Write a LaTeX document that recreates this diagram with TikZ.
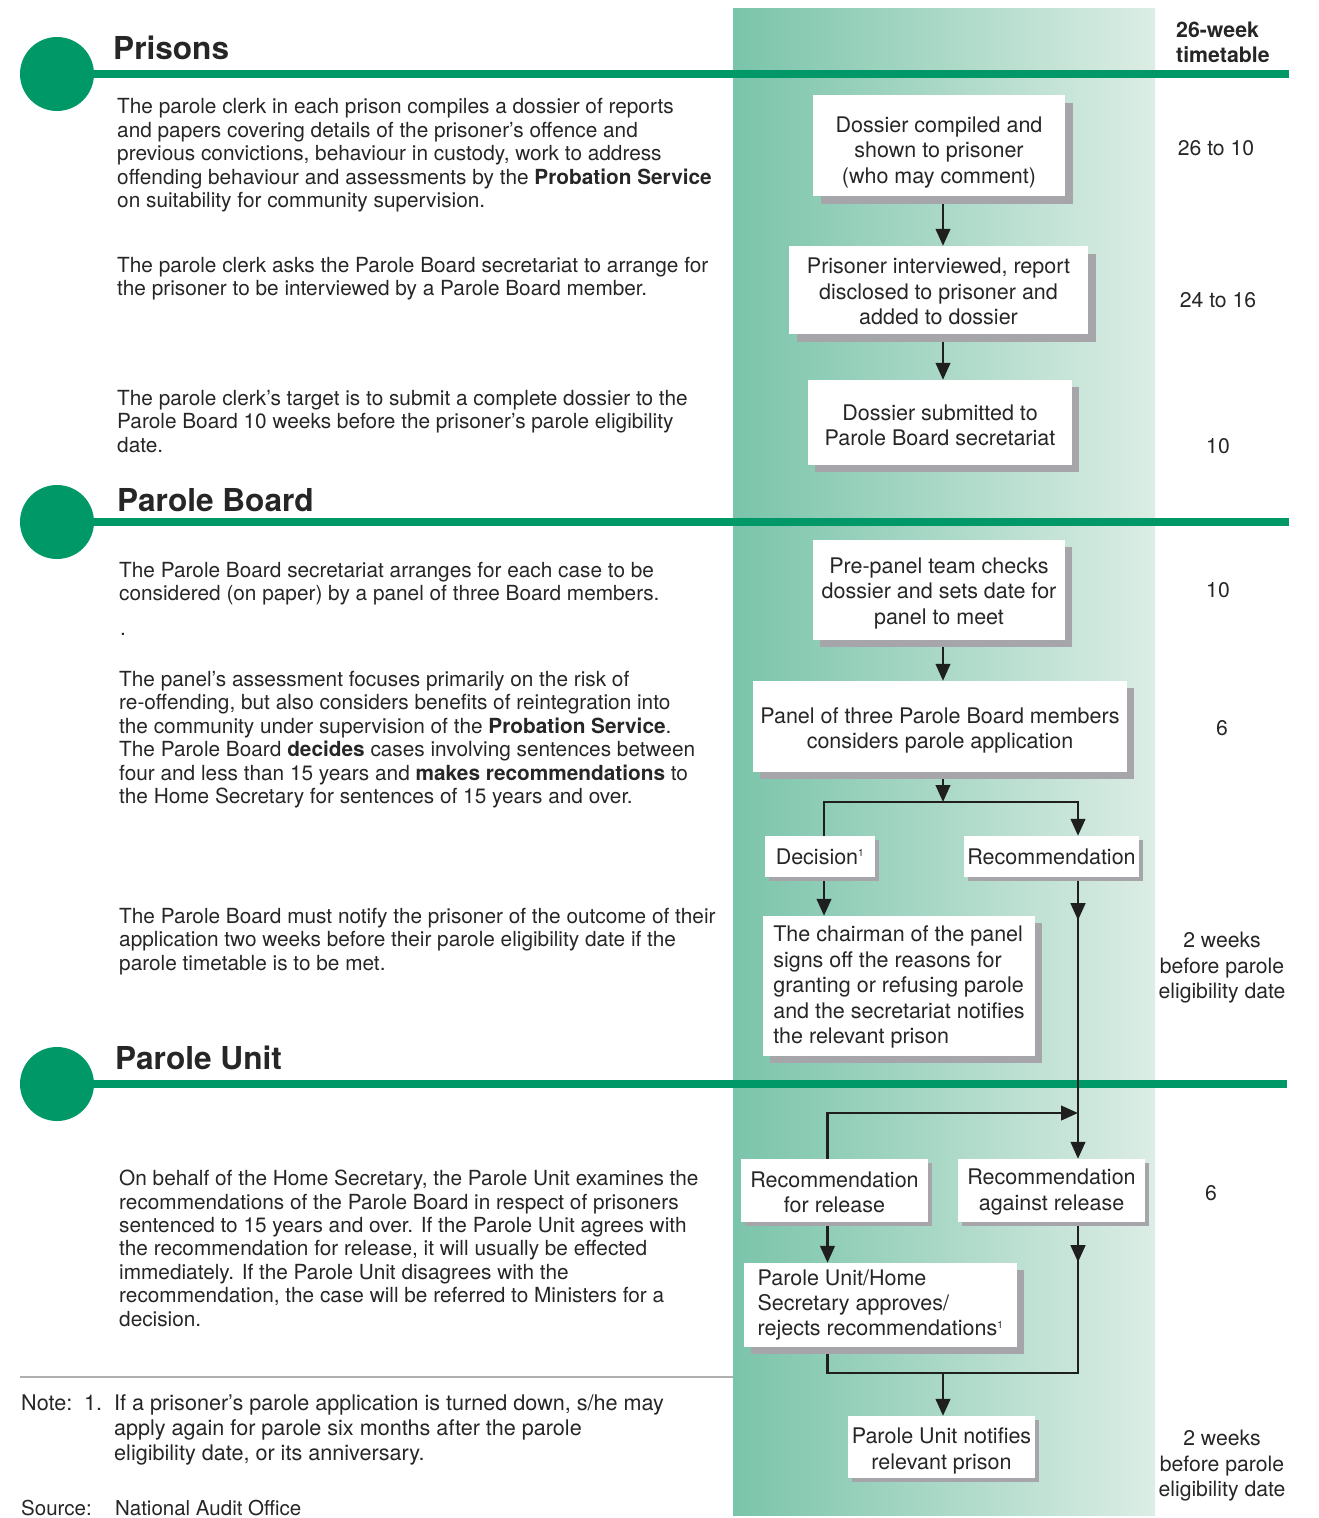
\documentclass[tikz,border=0pt]{standalone}
\usepackage{fontspec}
\setmainfont{TeX Gyre Heros}
\usetikzlibrary{arrows.meta,shadows}
\definecolor{nagreen}{RGB}{0,152,102}
\definecolor{bandL}{RGB}{122,196,170}
\definecolor{bandR}{RGB}{220,237,229}
\definecolor{shgrey}{RGB}{166,166,170}
\definecolor{txt}{RGB}{38,38,38}
\definecolor{rulegrey}{RGB}{175,175,175}
\pgfdeclarelayer{back}
\pgfdeclarelayer{mid}
\pgfsetlayers{back,mid,main}
\newcommand{\topgap}[1]{\rule{0pt}{#1}}
\begin{document}
\begin{tikzpicture}[x=1pt,y=-1pt,
  every node/.style={text=txt},
  para/.style={anchor=north west,inner sep=0pt,align=left,font=\fontsize{20.8}{23.4}\selectfont},
  head/.style={anchor=base west,inner sep=0pt,font=\fontsize{31.6}{36}\selectfont\bfseries},
  tt/.style={inner sep=0pt,align=center,font=\fontsize{21.2}{25.5}\selectfont},
  box/.style={fill=white,inner sep=0pt,align=center,font=\fontsize{21.5}{25.4}\selectfont,
    drop shadow={shadow xshift=#1,shadow yshift=-#1,fill=shgrey,opacity=1}},
  box/.default=7pt,
  arr/.style={line width=2.7pt,draw=black!88,-{Triangle[length=17pt,width=14.5pt]}},
  conn/.style={line width=2.7pt,draw=black!88},
  sect/.style={draw=nagreen,line width=7.5pt},
  ]
\useasboundingbox (0,0) rectangle (1319,1518);

% background band, section rules
\begin{pgfonlayer}{back}
\shade[left color=bandL,right color=bandR] (733,8) rectangle (1155,1515);
\draw[sect] (57,74) -- (1289,74);
\fill[nagreen] (57,74) circle[radius=37pt];
\draw[sect] (57,522) -- (1289,522);
\fill[nagreen] (57,522) circle[radius=37pt];
\draw[sect] (57,1084) -- (1287,1084);
\fill[nagreen] (57,1084) circle[radius=37pt];
\draw[rulegrey,line width=1.3pt] (20,1377) -- (733,1377);
\end{pgfonlayer}

% headers
\node[head] (hpr) at (113,59.5) {Prisons};
\node[head] (hpb) at (117,511) {Parole Board};
\node[head] (hpu) at (115,1069) {Parole Unit};
\node[anchor=north west,align=left,inner sep=0pt,font=\fontsize{21.3}{25}\selectfont\bfseries] (ttl) at (1176,22) {26-week\\timetable};

% left paragraphs
\node[para] (p1) at (117,98.5) {The parole clerk in each prison compiles a dossier of reports\\
and papers covering details of the prisoner’s offence and\\
previous convictions, behaviour in custody, work to address\\
offending behaviour and assessments by the \textbf{Probation Service}\\
on suitability for community supervision.};
\node[para] (p2) at (117,257) {The parole clerk asks the Parole Board secretariat to arrange for\\
the prisoner to be interviewed by a Parole Board member.};
\node[para] (p3) at (117,390) {The parole clerk’s target is to submit a complete dossier to the\\
Parole Board 10 weeks before the prisoner’s parole eligibility\\
date.};
\node[para] (p4) at (119,562) {The Parole Board secretariat arranges for each case to be\\
considered (on paper) by a panel of three Board members.};
\node[anchor=base west,inner sep=0pt,font=\fontsize{20.8}{23.4}\selectfont] (dot) at (120,635) {.};
\node[para] (p5) at (119,671) {The panel’s assessment focuses primarily on the risk of\\
re-offending, but also considers benefits of reintegration into\\
the community under supervision of the \textbf{Probation Service}.\\
The Parole Board \textbf{decides} cases involving sentences between\\
four and less than 15 years and \textbf{makes recommendations} to\\
the Home Secretary for sentences of 15 years and over.};
\node[para] (p6) at (119,908) {The Parole Board must notify the prisoner of the outcome of their\\
application two weeks before their parole eligibility date if the\\
parole timetable is to be met.};
\node[para] (p7) at (119,1170) {On behalf of the Home Secretary, the Parole Unit examines the\\
recommendations of the Parole Board in respect of prisoners\\
sentenced to 15 years and over. If the Parole Unit agrees with\\
the recommendation for release, it will usually be effected\\
immediately. If the Parole Unit disagrees with the\\
recommendation, the case will be referred to Ministers for a\\
decision.};

% note and source
\node[anchor=base west,inner sep=0pt,font=\fontsize{21.6}{25}\selectfont] (nl) at (21,1410) {Note:};
\node[anchor=base west,inner sep=0pt,font=\fontsize{21.6}{25}\selectfont] (n1) at (84,1410) {1.};
\node[anchor=north west,align=left,inner sep=0pt,font=\fontsize{21.6}{25}\selectfont] (nt) at (114,1394.5) {If a prisoner’s parole application is turned down, s/he may\\
apply again for parole six months after the parole\\
eligibility date, or its anniversary.};
\node[anchor=base west,inner sep=0pt,font=\fontsize{20.5}{25}\selectfont] (sl) at (21,1515) {Source:};
\node[anchor=base west,inner sep=0pt,font=\fontsize{20.5}{25}\selectfont] (st) at (115,1515) {National Audit Office};

% timetable values
\node[tt,anchor=base] (t1) at (1216,155.5) {26 to 10};
\node[tt,anchor=base] (t2) at (1218,307.5) {24 to 16};
\node[tt,anchor=base] (t3) at (1218,453) {10};
\node[tt,anchor=base] (t4) at (1218,597) {10};
\node[tt,anchor=base] (t5) at (1222,735.5) {6};
\node[tt,anchor=north] (t6) at (1222,932) {2 weeks\\before parole\\eligibility date};
\node[tt,anchor=base] (t7) at (1211,1200) {6};
\node[tt,anchor=north] (t8) at (1222,1430) {2 weeks\\before parole\\eligibility date};

% flow boxes
\node[box=8pt,minimum width=252pt,minimum height=101pt] (b1) at (939,145.5) {\topgap{29pt}Dossier compiled and\\shown to prisoner\\(who may comment)};
\node[box=8pt,minimum width=299pt,minimum height=88pt] (b2) at (938.5,290) {\topgap{19pt}Prisoner interviewed, report\\disclosed to prisoner and\\added to dossier};
\node[box,minimum width=264pt,minimum height=85pt] (b3) at (940,422.5) {\topgap{21pt}Dossier submitted to\\Parole Board secretariat};
\node[box,minimum width=252pt,minimum height=100pt] (b4) at (939,590) {\topgap{22pt}Pre-panel team checks\\dossier and sets date for\\panel to meet};
\node[box,minimum width=374pt,minimum height=91pt] (b5) at (940,726.5) {\topgap{24pt}Panel of three Parole Board members\\considers parole application};
\node[box=4pt,minimum width=110pt,minimum height=41pt] (b6) at (820,856.5) {Decision\textsuperscript{\fontsize{10}{10}\selectfont 1}};
\node[box=4pt,minimum width=175pt,minimum height=41pt] (b7) at (1051.5,856.5) {Recommendation};
\node[box,align=left,minimum width=272pt,minimum height=140pt] (b8) at (899,986) {\topgap{18pt}The chairman of the panel\\signs off the reasons for\\granting or refusing parole\\and the secretariat notifies\\the relevant prison};
\node[box=4pt,minimum width=187pt,minimum height=63pt] (b9) at (834.5,1190.5) {\topgap{19pt}Recommendation\\for release};
\node[box=4pt,minimum width=187pt,minimum height=63pt] (b10) at (1051.5,1190.5) {\topgap{19pt}Recommendation\\against release};
\node[box,align=left,minimum width=273pt,minimum height=84pt] (b11) at (880.5,1305) {Parole Unit/Home\\Secretary approves/\\rejects recommendations\textsuperscript{\fontsize{10}{10}\selectfont 1}};
\node[box=4pt,minimum width=187pt,minimum height=62pt] (b12) at (941.5,1447) {\topgap{24pt}Parole Unit notifies\\relevant prison};

% connector guide coordinates
\coordinate (cx) at (943,0);
\coordinate (lx) at (824,0);
\coordinate (rx) at (1078,0);
\coordinate (mx) at (827.5,0);
\coordinate (sp) at (943,802);
\coordinate (jn) at (1078,1113);
\coordinate (mg) at (943,1373);

\begin{pgfonlayer}{mid}
\draw[arr] (b1.south -| cx) -- (b2.north -| cx);
\draw[arr] (b2.south -| cx) -- (b3.north -| cx);
\draw[arr] (b4.south -| cx) -- (b5.north -| cx);
\draw[arr] (b5.south -| cx) -- (sp);
\draw[arr] (b6.north -| lx) -- (lx |- sp) -- (rx |- sp) -- (b7.north -| rx);
\draw[arr] (b6.south -| lx) -- (b8.north -| lx);
\draw[arr] (b7.south -| rx) -- (b10.north -| rx);
\draw[arr] (b7.south -| rx) -- ++(0,43);
\draw[arr] (b9.north -| mx) -- (mx |- jn) -- (jn);
\draw[arr] (b9.south -| mx) -- (b11.north -| mx);
\draw[arr] (b10.south -| rx) -- ++(0,40);
\draw[conn] (b10.south -| rx) -- (rx |- mg) -- (mx |- mg) -- (b11.south -| mx);
\draw[arr] (mg -| cx) -- (b12.north -| cx);
\end{pgfonlayer}
\end{tikzpicture}
\end{document}
